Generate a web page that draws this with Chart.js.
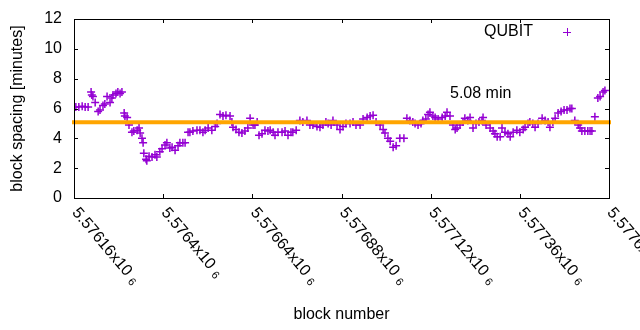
<!DOCTYPE html>
<html>
<head>
<meta charset="utf-8">
<script src="https://cdn.jsdelivr.net/npm/chart.js@4.4.1/dist/chart.umd.min.js"></script>
<style>
  html, body { margin: 0; padding: 0; background: #fff; }
  #wrap { width: 640px; height: 330px; }
</style>
</head>
<body>
<div id="wrap"><canvas id="c" width="640" height="330"></canvas></div>
<script>
const blocks = [
  5576165, 5576173, 5576182, 5576190, 5576198, 5576206, 5576208, 5576211, 5576217, 5576225,
  5576230, 5576238, 5576243, 5576249, 5576257, 5576262, 5576265, 5576273, 5576278, 5576284,
  5576289, 5576295, 5576297, 5576303, 5576308, 5576316, 5576321, 5576330, 5576335, 5576338,
  5576343, 5576346, 5576348, 5576354, 5576356, 5576362, 5576370, 5576378, 5576383, 5576391,
  5576397, 5576405, 5576410, 5576418, 5576424, 5576432, 5576440, 5576445, 5576453, 5576459,
  5576467, 5576472, 5576480, 5576491, 5576499, 5576507, 5576513, 5576521, 5576531, 5576540,
  5576545, 5576553, 5576561, 5576569, 5576580, 5576585, 5576588, 5576596, 5576604, 5576612,
  5576620, 5576628, 5576634, 5576642, 5576647, 5576653, 5576658, 5576666, 5576674, 5576682,
  5576688, 5576696, 5576701, 5576709, 5576720, 5576728, 5576736, 5576744, 5576749, 5576758,
  5576768, 5576776, 5576787, 5576795, 5576803, 5576814, 5576822, 5576830, 5576838, 5576844,
  5576852, 5576857, 5576868, 5576876, 5576884, 5576892, 5576903, 5576911, 5576919, 5576930,
  5576938, 5576949, 5576957, 5576965, 5576973, 5576984, 5576992, 5576997, 5577005, 5577011,
  5577019, 5577027, 5577037, 5577048, 5577056, 5577064, 5577072, 5577078, 5577086, 5577094,
  5577099, 5577107, 5577113, 5577118, 5577126, 5577132, 5577140, 5577151, 5577159, 5577164,
  5577172, 5577180, 5577186, 5577191, 5577199, 5577207, 5577212, 5577220, 5577226, 5577234,
  5577242, 5577250, 5577258, 5577261, 5577269, 5577280, 5577288, 5577293, 5577299, 5577307,
  5577312, 5577320, 5577328, 5577334, 5577342, 5577352, 5577360, 5577369, 5577374, 5577382,
  5577387, 5577395, 5577401, 5577409, 5577420, 5577428, 5577436, 5577441, 5577449, 5577455,
  5577463, 5577471, 5577479, 5577487, 5577495, 5577500, 5577508, 5577517, 5577522, 5577527,
  5577535, 5577543, 5577549, 5577554, 5577562, 5577570, 5577576, 5577584, 5577589
];
const spacing = [
  6.1, 6.1, 6.15, 6.1, 6.1, 7.1, 6.9, 6.8, 6.4, 5.8,
  5.9, 6.2, 6.3, 6.8, 6.4, 6.7, 6.9, 7.0, 7.1, 7.0,
  7.1, 5.7, 5.5, 5.4, 4.9, 4.4, 4.5, 4.55, 4.7, 4.35,
  4.0, 3.7, 3.0, 2.6, 2.5, 2.8, 2.75, 2.9, 2.75, 3.1,
  3.3, 3.55, 3.7, 3.35, 3.4, 3.2, 3.5, 3.7, 3.7, 3.7,
  4.4, 4.4, 4.5, 4.55, 4.55, 4.4, 4.55, 4.7, 4.55, 4.8,
  5.0, 5.6, 5.5, 5.55, 5.5, 5.1, 4.75, 4.6, 4.4, 4.35,
  4.5, 4.7, 5.35, 4.9, 4.9, 5.1, 4.2, 4.3, 4.55, 4.5,
  4.55, 4.4, 4.2, 4.4, 4.4, 4.5, 4.2, 4.4, 4.4, 4.55,
  5.2, 5.1, 5.2, 4.9, 4.9, 4.8, 4.75, 4.9, 5.1, 5.0,
  4.9, 5.2, 4.9, 4.6, 4.8, 5.0, 5.0, 5.1, 4.9, 4.9,
  5.3, 5.4, 5.5, 5.55, 5.1, 4.9, 4.6, 4.35, 4.0, 3.8,
  3.4, 3.5, 4.0, 4.0, 5.35, 5.2, 5.1, 5.0, 4.9, 5.0,
  5.2, 5.3, 5.6, 5.75, 5.5, 5.4, 5.3, 5.4, 5.5, 5.75,
  5.5, 4.9, 4.6, 4.7, 4.9, 5.1, 5.35, 5.2, 5.4, 4.7,
  5.0, 5.1, 5.2, 5.4, 4.9, 4.7, 4.5, 4.3, 4.1, 4.1,
  4.7, 4.4, 4.3, 4.1, 4.4, 4.55, 4.4, 4.6, 4.75, 5.0,
  5.1, 5.0, 4.75, 5.0, 5.35, 5.2, 5.1, 4.75, 5.1, 5.35,
  5.7, 5.8, 5.9, 5.9, 6.0, 6.0, 5.2, 4.9, 4.7, 4.5,
  4.5, 4.5, 4.5, 4.5, 5.45, 6.7, 6.8, 7.1, 7.2
];
const meanSpacing = 5.08;
const xTickValues = [5576160, 5576400, 5576640, 5576880, 5577120, 5577360, 5577600];
const xTickLabels = ['5.57616x10', '5.5764x10', '5.57664x10', '5.57688x10', '5.57712x10', '5.57736x10', '5.5776x10'];
const yTickValues = [0, 2, 4, 6, 8, 10, 12];

const FONT = '16px "Liberation Sans", Arial, sans-serif';
const PURPLE = '#9400d3';
const ORANGE = '#ffa500';

const gnuplotFrame = {
  id: 'gnuplotFrame',
  afterDraw(chart) {
    const ctx = chart.ctx, a = chart.chartArea;
    const xs = chart.scales.x, ys = chart.scales.y;
    ctx.save();
    ctx.strokeStyle = '#000';
    ctx.lineWidth = 1;
    ctx.strokeRect(Math.round(a.left) + 0.5, Math.round(a.top) + 0.5,
      Math.round(a.right - a.left), Math.round(a.bottom - a.top));
    ctx.beginPath();
    yTickValues.forEach(v => {
      const py = Math.round(ys.getPixelForValue(v)) + 0.5;
      ctx.moveTo(a.left, py); ctx.lineTo(a.left + 4, py);
      ctx.moveTo(a.right, py); ctx.lineTo(a.right - 4, py);
    });
    xTickValues.forEach(v => {
      const px = Math.round(xs.getPixelForValue(v)) + 0.5;
      ctx.moveTo(px, a.bottom); ctx.lineTo(px, a.bottom - 4);
      ctx.moveTo(px, a.top); ctx.lineTo(px, a.top + 4);
    });
    ctx.stroke();

    ctx.fillStyle = '#000';
    ctx.font = FONT;
    ctx.textAlign = 'right';
    ctx.textBaseline = 'middle';
    yTickValues.forEach(v => {
      ctx.fillText(String(v), a.left - 12, ys.getPixelForValue(v));
    });

    xTickValues.forEach((v, i) => {
      const px = xs.getPixelForValue(v);
      ctx.save();
      ctx.translate(px + 1, a.bottom + 12);
      ctx.rotate(50 * Math.PI / 180);
      ctx.textAlign = 'left';
      ctx.textBaseline = 'middle';
      ctx.font = FONT;
      ctx.fillText(xTickLabels[i], 0, 0);
      const w = ctx.measureText(xTickLabels[i]).width;
      ctx.font = '11px "Liberation Sans", Arial, sans-serif';
      ctx.fillText('6', w + 5, 3);
      ctx.restore();
    });

    ctx.font = FONT;
    ctx.textAlign = 'center';
    ctx.textBaseline = 'middle';
    ctx.fillText('block number', (a.left + a.right) / 2, 315);
    ctx.save();
    ctx.translate(18, (a.top + a.bottom) / 2);
    ctx.rotate(-Math.PI / 2);
    ctx.fillText('block spacing [minutes]', 0, 0);
    ctx.restore();

    ctx.textAlign = 'left';
    ctx.fillText('5.08 min', xs.getPixelForValue(5577172), ys.getPixelForValue(7.0));

    ctx.textAlign = 'right';
    ctx.fillText('QUBIT', 533, 32);
    ctx.strokeStyle = PURPLE;
    ctx.beginPath();
    ctx.moveTo(563, 32.5); ctx.lineTo(571, 32.5);
    ctx.moveTo(567.5, 28); ctx.lineTo(567.5, 36);
    ctx.stroke();
    ctx.restore();
  }
};

new Chart(document.getElementById('c'), {
  type: 'scatter',
  data: {
    datasets: [
      {
        type: 'line',
        label: 'mean',
        data: [{x: xTickValues[0], y: meanSpacing}, {x: xTickValues[xTickValues.length - 1], y: meanSpacing}],
        borderColor: ORANGE,
        borderWidth: 4,
        borderCapStyle: 'square',
        pointRadius: 0,
        clip: false,
        order: 0
      },
      {
        label: 'QUBIT',
        data: blocks.map((b, i) => ({x: b, y: spacing[i]})),
        pointStyle: 'cross',
        pointRadius: 4,
        borderWidth: 1.5,
        borderColor: PURPLE,
        backgroundColor: PURPLE,
        order: 1
      }
    ]
  },
  options: {
    responsive: false,
    animation: false,
    layout: { padding: { left: 74, right: 31, top: 19, bottom: 132 } },
    plugins: { legend: { display: false }, tooltip: { enabled: false } },
    scales: {
      x: { type: 'linear', display: false, min: 5576160, max: 5577600 },
      y: { display: false, min: 0, max: 12 }
    }
  },
  plugins: [gnuplotFrame]
});
</script>
</body>
</html>
